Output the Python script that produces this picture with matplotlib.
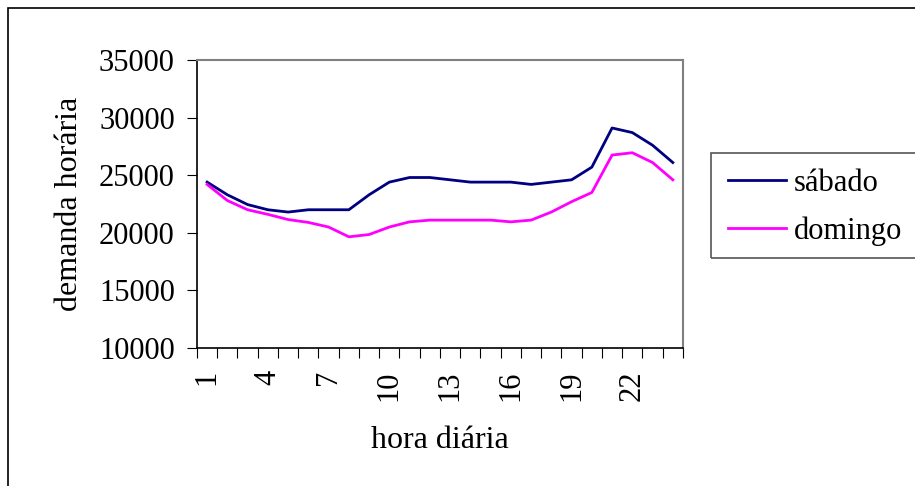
import matplotlib.pyplot as plt
from matplotlib.patches import Rectangle
import numpy as np

plt.rcParams["font.family"] = ["Liberation Serif", "DejaVu Serif"]

horas = list(range(1, 25))
sabado = [24400, 23300, 22450, 22000, 21800, 22000, 22000, 22000, 23300, 24400,
          24800, 24800, 24600, 24400, 24400, 24400, 24200, 24400, 24600, 25700,
          29100, 28700, 27600, 26100]
domingo = [24200, 22800, 22000, 21600, 21150, 20900, 20500, 19650, 19850, 20500,
           20950, 21100, 21100, 21100, 21100, 20950, 21100, 21800, 22700, 23500,
           26750, 26950, 26100, 24600]
rotulos = [str(h) if (h - 1) % 3 == 0 else "" for h in horas]

fig = plt.figure(figsize=(9.15, 4.86), dpi=100)
ax = fig.add_axes([0.2153, 0.284, 0.5311, 0.5925])

x = np.arange(len(horas)) + 0.5
l1, = ax.plot(x, sabado, color="#000080", lw=2)
l2, = ax.plot(x, domingo, color="#FF00FF", lw=2)

ax.set_xlim(0, 24)
ax.set_ylim(10000, 35000)
ax.set_yticks(range(10000, 35001, 5000))
ax.set_xticks(range(0, 25))
ax.set_xticklabels([])
ax.set_xticks(x, minor=True)
ax.set_xticklabels(rotulos, minor=True, rotation=90)
ax.tick_params(axis="x", which="minor", length=0, pad=16, labelsize=22)
ax.tick_params(axis="x", which="major", length=7, direction="out")
ax.tick_params(axis="y", length=7, labelsize=22, pad=9)

for s in ["top", "right"]:
    ax.spines[s].set_color("#808080")
    ax.spines[s].set_linewidth(1.5)
for s in ["left", "bottom"]:
    ax.spines[s].set_color("black")
    ax.spines[s].set_linewidth(1.2)

ax.set_xlabel("hora diária", fontsize=23, labelpad=18)
ax.set_ylabel("demanda horária", fontsize=23, labelpad=11)

fig.legend([l1, l2], ["sábado", "domingo"], loc="upper left",
           bbox_to_anchor=(0.782, 0.678), frameon=False, fontsize=22,
           handlelength=1.9, handletextpad=0.25, labelspacing=0.62,
           borderaxespad=0)
fig.patches.append(Rectangle((0.777, 0.469), 0.3, 0.217, transform=fig.transFigure,
                             fill=False, edgecolor="#555555", lw=1.2))
fig.patches.append(Rectangle((0.0087, -0.1), 1.2, 1.0835, transform=fig.transFigure,
                             fill=False, edgecolor="black", lw=1.2))

plt.savefig("out.png", dpi=100)
